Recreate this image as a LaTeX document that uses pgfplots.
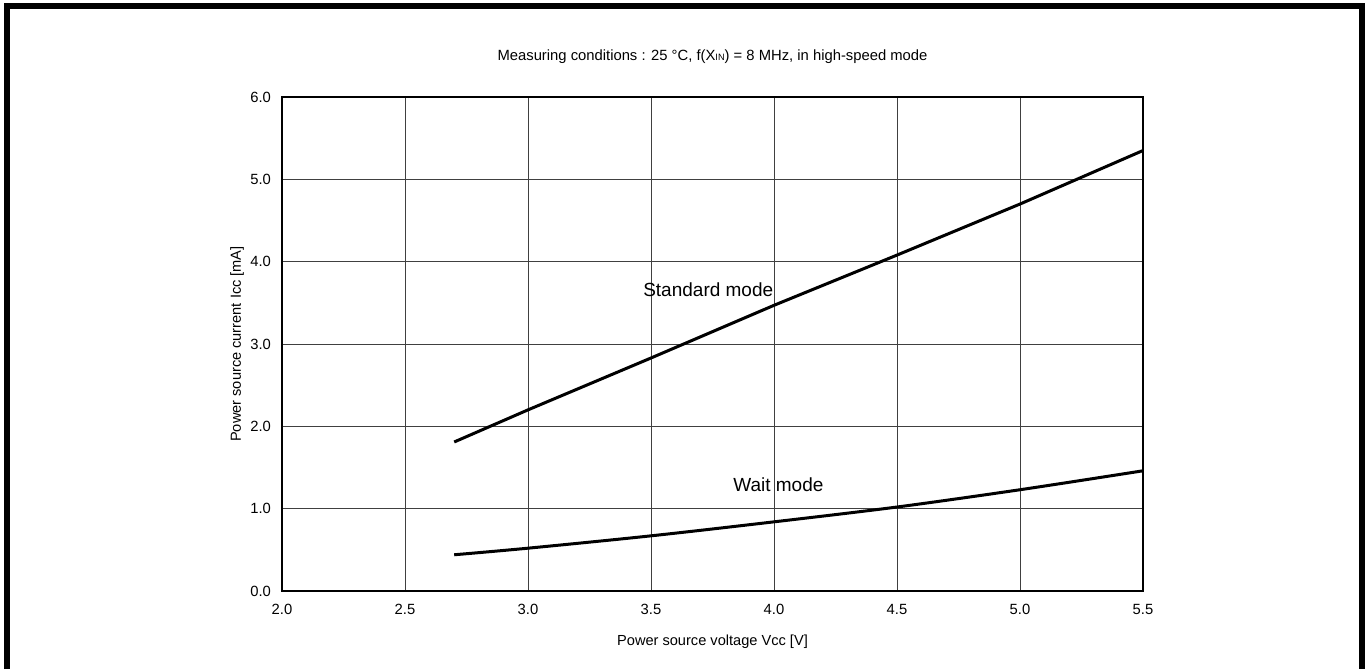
\documentclass[border=0pt]{standalone}
\usepackage{fontspec}
\setmainfont{Liberation Sans}
\usepackage{pgfplots}
\pgfplotsset{compat=1.18}
\begin{document}
\begin{tikzpicture}[x=1pt,y=1pt]
\path[use as bounding box] (0,0) rectangle (685,334.5);
\draw[line width=3pt,line cap=butt,line join=miter] (3.25,0) -- (3.25,331.5) -- (681,331.5) -- (681,0);
\node[font=\fontsize{7.4}{8}\selectfont] at (356.25,306) {Measuring conditions : 25 °C, f(X{\fontsize{4.6}{5}\selectfont IN}) = 8 MHz, in high-speed mode};
\begin{axis}[
  at={(141pt,39pt)}, anchor=south west,
  scale only axis, width=430.5pt, height=247pt,
  xmin=2, xmax=5.5, ymin=0, ymax=6,
  xtick={2.0,2.5,...,5.5}, ytick={0,1,...,6},
  major tick length=0pt,
  grid=major,
  major grid style={line width=0.5pt, black!75},
  axis line style={line width=0.6pt, black},
  tick label style={font=\fontsize{7.4}{8}\selectfont},
  /pgf/number format/assume math mode=true,
  /pgf/number format/fixed,
  /pgf/number format/fixed zerofill,
  /pgf/number format/precision=1,
  xlabel={Power source voltage Vcc [V]},
  ylabel={Power source current Icc [mA]},
  label style={font=\fontsize{7.3}{8}\selectfont},
  xlabel style={at={(axis description cs:0.5,0)}, anchor=center, yshift=-25.5pt},
  ylabel style={at={(axis description cs:0,0.5)}, anchor=center, yshift=22.5pt},
  xticklabel style={yshift=-3pt},
  yticklabel style={xshift=-2pt},
  clip=false,
]
\addplot[black, line width=1.5pt] coordinates {(2.7,1.81) (3.0,2.20) (3.5,2.83) (4.0,3.47) (4.5,4.08) (5.0,4.70) (5.5,5.35)};
\addplot[black, line width=1.5pt, smooth] coordinates {(2.7,0.44) (3.0,0.52) (3.5,0.67) (4.0,0.84) (4.5,1.02) (5.0,1.23) (5.5,1.46)};
\node[anchor=west, inner sep=0pt, font=\fontsize{9.5}{10}\selectfont] at (axis cs:3.467,3.66) {Standard mode};
\node[anchor=west, inner sep=0pt, font=\fontsize{9.5}{10}\selectfont] at (axis cs:3.833,1.29) {Wait mode};
\end{axis}
\end{tikzpicture}
\end{document}
